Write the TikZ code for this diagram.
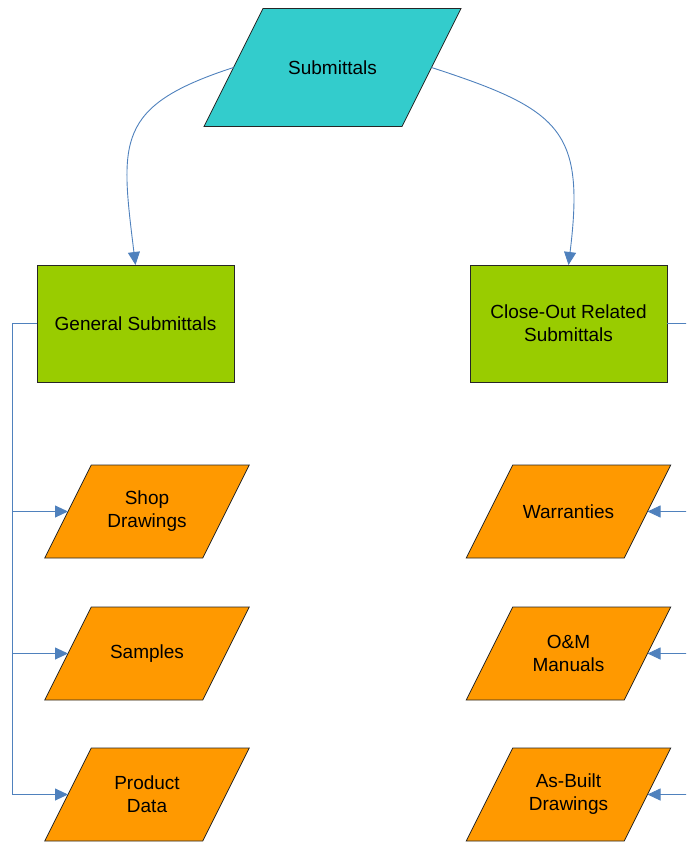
\documentclass[tikz,border=0pt]{standalone}
\usepackage{fontspec}
\setmainfont{Liberation Sans}
\usetikzlibrary{arrows.meta,backgrounds}
\definecolor{topfill}{HTML}{33CCCC}
\definecolor{groupfill}{HTML}{99CC00}
\definecolor{itemfill}{HTML}{FF9900}
\definecolor{linkblue}{HTML}{4F81BD}
% parallelogram: name, centre, edge width, height, fill, text
% the slant equals half the height; west/east anchors sit on the slanted sides
\newcommand\slantnode[6]{%
  \node[slantlabel, minimum width=#3, minimum height=#4] (#1) at #2 {#6};
  \begin{scope}[on background layer]
    \draw[slantedge, fill=#5]
      ([xshift=#4/4]#1.north west) -- ([xshift=#4/4]#1.north east)
      -- ([xshift=-#4/4]#1.south east) -- ([xshift=-#4/4]#1.south west) -- cycle;
  \end{scope}}
\begin{document}
\begin{tikzpicture}[x=1pt,y=-1pt,
  every node/.style={font=\fontsize{19}{23}\selectfont, align=center, inner sep=0pt, outer sep=0pt},
  slantlabel/.style={rectangle},
  slantedge/.style={draw=black!85, line width=0.8pt, line join=miter},
  groupbox/.style={rectangle, draw=black!85, line width=0.8pt, fill=groupfill,
    minimum width=197pt, minimum height=117pt},
  link/.style={draw=linkblue, line width=0.9pt},
  linkarrow/.style={link, -{Triangle[length=13pt,width=12pt]}}
]
\useasboundingbox (0,0) rectangle (686,842);
\clip (0,0) rectangle (686,842);

% top level
\slantnode{sub}{(332.5,67.5)}{198}{118}{topfill}{Submittals}

% two groups
\node[groupbox] (gen) at (135.5,323.5) {General Submittals};
\node[groupbox] (close) at (568.5,323.5) {Close-Out Related\\Submittals};

% items of the general group
\slantnode{shop}{(147,511.5)}{158}{93}{itemfill}{Shop\\Drawings}
\slantnode{samp}{(147,653.5)}{158}{93}{itemfill}{Samples}
\slantnode{prod}{(147,794.5)}{158}{93}{itemfill}{Product\\Data}

% items of the close-out group
\slantnode{warr}{(568.5,511.5)}{158}{93}{itemfill}{Warranties}
\slantnode{oam}{(568.5,653.5)}{158}{93}{itemfill}{O\&M\\Manuals}
\slantnode{asb}{(568.5,794.5)}{158}{93}{itemfill}{As-Built\\Drawings}

% curved links from the top level
\draw[linkarrow] (sub.west) to[out=198,in=97,looseness=1.45] (gen.north);
\draw[linkarrow] (sub.east) to[out=-18,in=83,looseness=1.45] (close.north);

% left trunk
\coordinate (lt) at (12,323.5);
\draw[link] (gen.west) -- (lt) -- (lt |- prod.west);
\draw[linkarrow] (lt |- shop.west) -- (shop.west);
\draw[linkarrow] (lt |- samp.west) -- (samp.west);
\draw[linkarrow] (lt |- prod.west) -- (prod.west);

% right trunk
\coordinate (rt) at (700,323.5);
\draw[link] (close.east) -- (rt) -- (rt |- asb.east);
\draw[linkarrow] (rt |- warr.east) -- (warr.east);
\draw[linkarrow] (rt |- oam.east) -- (oam.east);
\draw[linkarrow] (rt |- asb.east) -- (asb.east);
\end{tikzpicture}
\end{document}
